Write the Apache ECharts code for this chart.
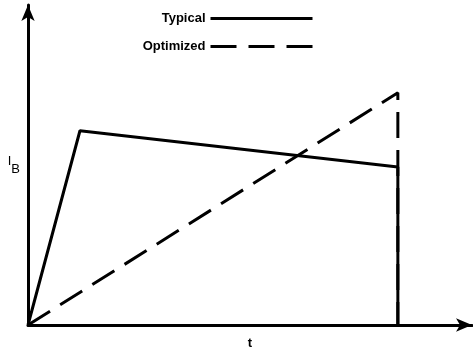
<!DOCTYPE html>
<html>
<head>
<meta charset="utf-8">
<script src="https://cdn.jsdelivr.net/npm/echarts@6/dist/echarts.min.js"></script>
<style>
  html, body { margin: 0; padding: 0; background: #fff; }
  #chart { width: 473px; height: 355px; }
</style>
</head>
<body>
<div id="chart"></div>
<script>
// time (arbitrary units, 0..100) and base current I_B (0..100)
const typicalT = [0, 11.7, 83.3, 83.3];
const typicalI = [0, 60.7, 49.4, 0];
const optimizedT = [0, 83.3, 83.3];
const optimizedI = [0, 72.6, 0];
const seriesNames = ['Typical', 'Optimized'];

const FONT = '"Liberation Sans Narrow", "Liberation Sans", Arial, sans-serif';
const legendText = { fontFamily: FONT, fontWeight: 'bold', fontSize: 13, color: '#000' };

function pairs(xs, ys) {
  return xs.map((x, i) => [x, ys[i]]);
}

let myChart = echarts.init(document.getElementById('chart'));
myChart.setOption({
  backgroundColor: '#fff',
  animation: false,
  grid: { left: 28, right: 1, top: 5, bottom: 22 },
  legend: [
    {
      data: [seriesNames[0]],
      right: 154, top: 7,
      align: 'right',
      itemWidth: 102, itemHeight: 14,
      itemStyle: { opacity: 0 },
      lineStyle: { width: 3 },
      textStyle: legendText
    },
    {
      data: [seriesNames[1]],
      right: 154, top: 35,
      align: 'right',
      itemWidth: 102, itemHeight: 14,
      itemStyle: { opacity: 0 },
      lineStyle: { width: 3 },
      textStyle: legendText
    }
  ],
  xAxis: {
    type: 'value', min: 0, max: 100,
    axisLine: { lineStyle: { color: '#000', width: 3 }, symbol: ['none', 'arrow'], symbolSize: [10, 16] },
    axisTick: { show: false }, axisLabel: { show: false }, splitLine: { show: false },
    name: 't', nameLocation: 'middle', nameGap: 12,
    nameTextStyle: { fontFamily: FONT, fontWeight: 'bold', fontSize: 13, color: '#000' }
  },
  yAxis: {
    type: 'value', min: 0, max: 100,
    axisLine: { lineStyle: { color: '#000', width: 3 }, symbol: ['none', 'arrow'], symbolSize: [10, 16] },
    axisTick: { show: false }, axisLabel: { show: false }, splitLine: { show: false },
    name: '{i|I}{b|B}', nameLocation: 'middle', nameRotate: 0, nameGap: 8,
    nameTextStyle: {
      fontFamily: FONT, color: '#000',
      rich: {
        i: { fontFamily: FONT, fontSize: 13, color: '#000', verticalAlign: 'top', padding: [0, 0, 6, 0] },
        b: { fontFamily: FONT, fontSize: 13, color: '#000', padding: [8, 0, 0, 0] }
      }
    }
  },
  series: [
    {
      name: seriesNames[0], type: 'line', symbol: 'none',
      lineStyle: { color: '#000', width: 3, type: 'solid' },
      itemStyle: { color: '#000' },
      data: pairs(typicalT, typicalI)
    },
    {
      name: seriesNames[1], type: 'line', symbol: 'none',
      lineStyle: { color: '#000', width: 3, type: [26, 12] },
      itemStyle: { color: '#000' },
      data: pairs(optimizedT, optimizedI)
    }
  ]
});
</script>
</body>
</html>
